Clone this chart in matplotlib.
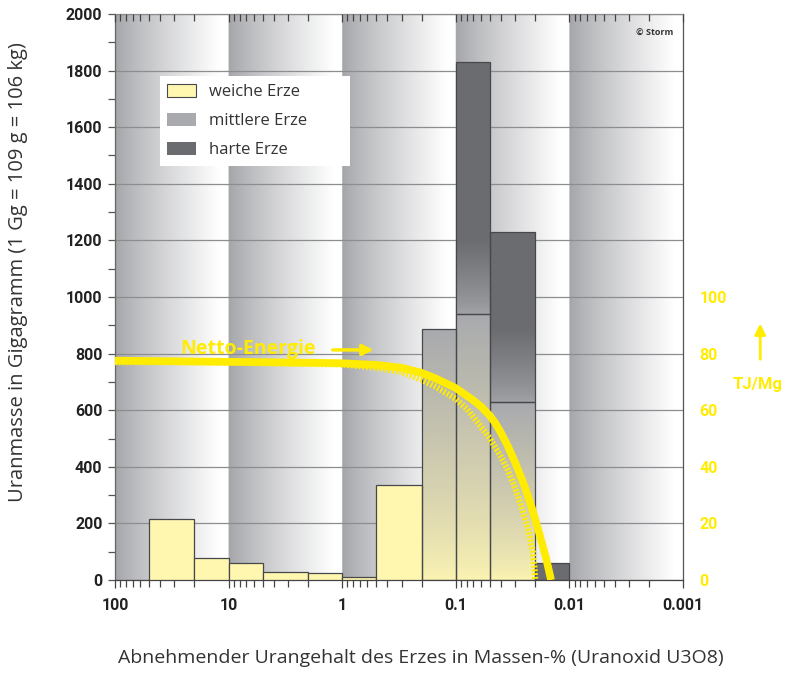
import numpy as np
import matplotlib.pyplot as plt
from matplotlib.patches import Patch
from matplotlib.colors import to_rgb
from matplotlib.ticker import LogLocator, NullFormatter, MultipleLocator
from matplotlib import font_manager

# bin edges in Massen-% U3O8 (decreasing, log axis)
edges = [50, 20, 10, 5, 2, 1, 0.5, 0.2, 0.1, 0.05, 0.02, 0.01]
# uranium mass per bin in Gg
weich = [215, 78, 60, 28, 25, 10, 335, 0, 0, 0, 0]
mittel = [0, 0, 0, 0, 0, 0, 0, 888, 940, 630, 0]
hart = [0, 0, 0, 0, 0, 0, 0, 0, 890, 598, 60]

# Netto-Energie in TJ/Mg
solid_x = [100, 30, 10, 3, 1, 0.5, 0.3, 0.2, 0.15, 0.1, 0.07, 0.06, 0.05,
           0.045, 0.04, 0.035, 0.03, 0.025, 0.022, 0.02, 0.018, 0.016, 0.0145]
solid_y = [77.5, 77.3, 77.1, 76.9, 76.6, 76.0, 75.0, 73.2, 71.2, 67.8, 63.5,
           61.3, 58.0, 55.5, 52.0, 47.5, 41.5, 33.5, 27.0, 21.5, 15.0, 7.5, 0.0]
dot_x = [100, 30, 10, 3, 1, 0.5, 0.3, 0.2, 0.15, 0.1, 0.08, 0.065, 0.05,
         0.04, 0.035, 0.03, 0.027, 0.024, 0.022, 0.021, 0.0204, 0.02]
dot_y = [77.0, 77.0, 76.8, 76.5, 76.2, 75.0, 73.5, 70.8, 68.3, 64.0, 60.5,
         56.0, 50.0, 43.5, 39.0, 32.5, 27.0, 20.5, 14.5, 10.0, 5.0, 0.0]

xticks = [100, 10, 1, 0.1, 0.01, 0.001]
xticklabels = ['100', '10', '1', '0.1', '0.01', '0.001']

# colours
c_weich = '#fff6b0'
c_mittel = '#a9aaae'
c_hart = '#6b6c70'
c_yellow = '#ffec00'
c_edge = '#47484b'

# pick a narrow font for the numbers if one is there
num_font, num_size = 'Roboto', 11.5
for name in ['Liberation Sans Narrow', 'DejaVu Sans Condensed']:
    try:
        font_manager.findfont(name, fallback_to_default=False)
        num_font, num_size = name, 12.5
        break
    except ValueError:
        pass

fig = plt.figure(figsize=(7.92, 6.73), dpi=100)
pos = [115 / 792, 1 - 580 / 673, 568 / 792, 566 / 673]

# background: one grey-to-white ramp per decade
bgax = fig.add_axes(pos, zorder=0)
ramp = np.clip(np.linspace(0, 1.08, 200), 0, 1) ** 0.85
g0 = np.array(to_rgb('#a4a5a9'))
row = np.tile(ramp, 5)
bg = g0[None, :] + (1 - g0)[None, :] * row[:, None]
bgax.imshow(bg[None, :, :], extent=(0, 1, 0, 1), aspect='auto',
            interpolation='bilinear')
bgax.set_xlim(0, 1)
bgax.set_ylim(0, 1)
bgax.axis('off')

ax = fig.add_axes(pos, zorder=1)
ax.patch.set_alpha(0)
ax.set_xscale('log')

lefts = np.array(edges[1:])
widths = np.array(edges[:-1]) - lefts
weich = np.array(weich)
mittel = np.array(mittel)
hart = np.array(hart)


def gradient(bar, c_bot, c_top, frac):
    x0, y0 = bar.get_x(), bar.get_y()
    w, h = bar.get_width(), bar.get_height()
    t = np.linspace(0, 1, 80)
    f = frac(t, h)[:, None]
    img = (1 - f) * np.array(to_rgb(c_bot)) + f * np.array(to_rgb(c_top))
    im = ax.imshow(img[:, None, :], extent=(x0, x0 + w, y0, y0 + h),
                   origin='lower', aspect='auto', interpolation='bilinear',
                   zorder=2)
    im.set_clip_path(bar)


# weiche Erze
m = weich > 0
ax.bar(lefts[m], weich[m], width=widths[m], align='edge', color=c_weich,
       edgecolor=c_edge, linewidth=0.9, zorder=3)

# mittlere Erze, grey fading to yellow at the bottom
m = mittel > 0
bars = ax.bar(lefts[m], mittel[m], width=widths[m], bottom=weich[m],
              align='edge', facecolor='none', edgecolor=c_edge,
              linewidth=0.9, zorder=3)
for b in bars:
    gradient(b, '#fbf3b2', c_mittel, lambda t, h: t ** 0.8)

# harte Erze, dark with a lighter foot
m = hart > 0
bars = ax.bar(lefts[m], hart[m], width=widths[m], bottom=(weich + mittel)[m],
              align='edge', facecolor='none', edgecolor=c_edge,
              linewidth=0.9, zorder=3)
for b in bars:
    if b.get_y() > 0:
        gradient(b, '#a0a1a5', c_hart,
                 lambda t, h: np.clip(t * h / 260, 0, 1) ** 0.8)
    else:
        gradient(b, c_hart, c_hart, lambda t, h: t)

ax.set_xlim(100, 0.001)
ax.set_ylim(0, 2000)
ax.set_xticks(xticks, xticklabels)
ax.xaxis.set_minor_locator(LogLocator(base=10, subs=np.arange(2, 10)))
ax.xaxis.set_minor_formatter(NullFormatter())
ax.yaxis.set_major_locator(MultipleLocator(200))
ax.yaxis.set_minor_locator(MultipleLocator(100))
ax.yaxis.grid(True, color='#8c8d91', linewidth=0.9)
ax.set_axisbelow(True)

ax.tick_params(axis='x', which='major', direction='out', length=6,
               width=0.9, color='#444444', pad=7)
ax.tick_params(axis='x', which='minor', direction='out', length=5,
               width=0.9, color='#444444')
ax.tick_params(axis='y', which='both', direction='out', length=5,
               width=0.9, color='#555555', pad=4)
for lab in ax.get_xticklabels() + ax.get_yticklabels():
    lab.set_fontfamily(num_font)
    lab.set_fontsize(num_size)
    lab.set_fontweight('bold')
    lab.set_color('#222222')
for side, col in [('left', '#666666'), ('bottom', '#444444'),
                  ('top', '#8c8d91'), ('right', '#555555')]:
    ax.spines[side].set_color(col)
    ax.spines[side].set_linewidth(0.9)

legend_handles = [
    Patch(facecolor=c_weich, edgecolor=c_edge, linewidth=0.8, label='weiche Erze'),
    Patch(facecolor=c_mittel, edgecolor='none', label='mittlere Erze'),
    Patch(facecolor=c_hart, edgecolor='none', label='harte Erze'),
]
leg = ax.legend(handles=legend_handles, loc='upper left',
                bbox_to_anchor=(0.079, 0.733, 0.335, 0.157), mode='expand',
                borderaxespad=0, frameon=True, fancybox=False, framealpha=1,
                edgecolor='none', handlelength=1.7, handleheight=0.8,
                handletextpad=0.8, labelspacing=0.78, borderpad=0.45,
                prop={'family': 'Open Sans', 'size': 12})
for t in leg.get_texts():
    t.set_color('#333333')
leg.set_zorder(5)

ax.text(0.982, 0.966, '\u00a9 Storm', transform=ax.transAxes, ha='right',
        va='center', fontsize=6.5, fontweight='bold', color='#333333',
        family='Open Sans')

# right axis: Netto-Energie
ax2 = ax.twinx()
ax2.set_ylim(0, 200)
ax2.set_yticks(range(0, 101, 20))
ax2.tick_params(axis='y', length=0, pad=12, labelcolor=c_yellow)
for lab in ax2.get_yticklabels():
    lab.set_fontfamily(num_font)
    lab.set_fontsize(num_size)
    lab.set_fontweight('bold')
for s in ax2.spines.values():
    s.set_visible(False)
# ticks hanging down from the top edge
ax2.xaxis.set_visible(True)
ax2.tick_params(axis='x', which='both', bottom=False, labelbottom=False,
                top=True, labeltop=False, direction='in', color='#444444',
                width=0.9)
ax2.tick_params(axis='x', which='major', length=6)
ax2.tick_params(axis='x', which='minor', length=5)

ax2.plot(dot_x, dot_y, color=c_yellow, linewidth=4.5,
         linestyle=(0, (0.3, 0.3)), dash_capstyle='butt', zorder=4)
ax2.plot(solid_x, solid_y, color=c_yellow, linewidth=5.5,
         solid_capstyle='butt', solid_joinstyle='round', zorder=4)

ax2.text(6.7, 81.5, 'Netto-Energie', color=c_yellow, fontsize=14,
         fontweight='bold', family='Open Sans', ha='center', va='center')
ax2.annotate('', xy=(0.5, 81.3), xytext=(1.28, 81.3),
             arrowprops=dict(arrowstyle='-|>', color=c_yellow, lw=2.5,
                             mutation_scale=16))

ax2.annotate('', xy=(1.136, 0.458), xytext=(1.136, 0.385),
             xycoords='axes fraction', annotation_clip=False,
             arrowprops=dict(arrowstyle='-|>', color=c_yellow, lw=2,
                             mutation_scale=16))
ax2.text(1.131, 0.345, 'TJ/Mg', transform=ax2.transAxes, color=c_yellow,
         fontsize=num_size + 0.5, fontweight='bold', family=num_font,
         ha='center', va='center')

fig.text(18 / 792, 1 - 272 / 673,
         'Uranmasse in Gigagramm (1 Gg = 109 g = 106 kg)', rotation=90,
         ha='center', va='center', fontsize=14.5, color='#333333',
         family='Open Sans')
fig.text(421 / 792, 1 - 658 / 673,
         'Abnehmender Urangehalt des Erzes in Massen-% (Uranoxid U3O8)',
         ha='center', va='center', fontsize=14, color='#333333',
         family='Open Sans')

fig.savefig('out.png', dpi=100)
